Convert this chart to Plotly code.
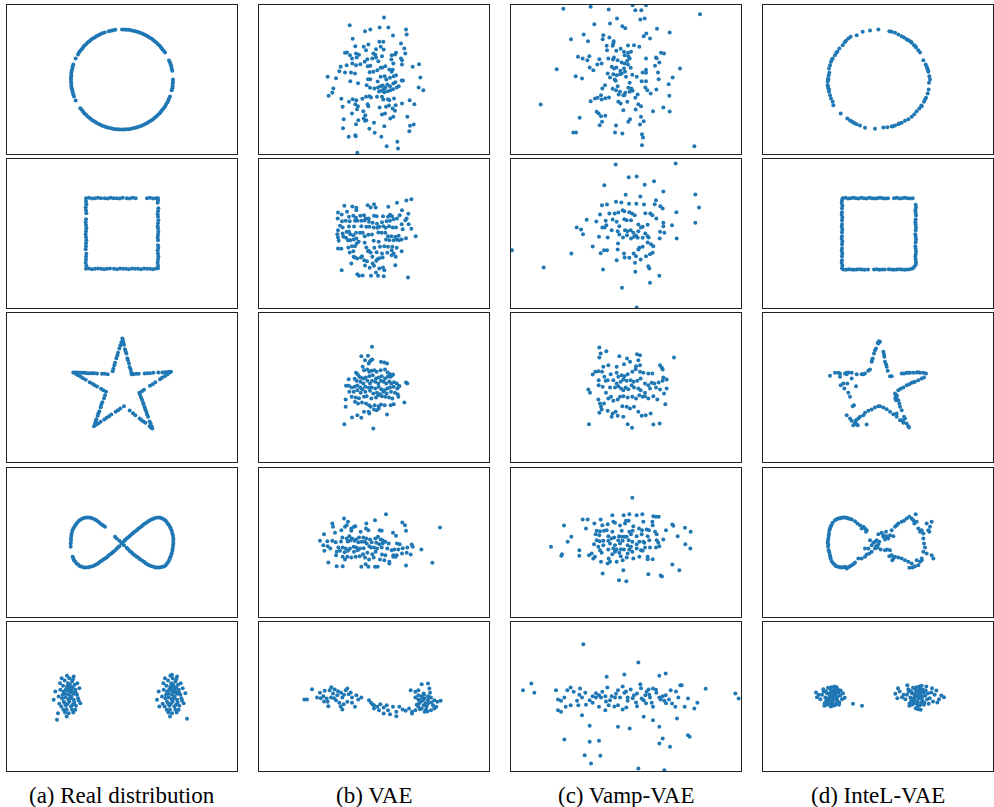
import plotly.graph_objects as go

# ---------------------------------------------------------------
# Samples per panel, (x, y) in a common latent-space unit.
# Rows: circle, square, star, infinity, two clusters
# Columns: real data, VAE, Vamp-VAE, InteL-VAE
# ---------------------------------------------------------------

REAL_CIRCLE = [
    (151,26),(149,32),(148,39),(146,45),(144,51),(141,57),
    (153,0),(153,-7),(152,-13),(152,-20),(151,-26),(149,-32),
    (129,81),(125,86),(121,91),(117,96),(113,101),(108,106),(103,111),(98,115),(93,119),(88,123),
    (82,126),(77,130),(71,133),(65,136),(59,139),(52,141),(46,143),(40,145),(33,146),(27,148),
    (20,149),(13,149),(7,150),(0,150),(-20,149),(-27,148),(-33,146),(-40,145),(-52,141),(-59,139),
    (-65,136),(-71,133),(-77,130),(-82,126),(-88,123),(-93,119),(-98,115),(-103,111),(-108,106),
    (-113,101),(-117,96),(-121,91),(-125,86),(-129,81),(-132,75),(-139,63),
    (-146,45),(-148,39),(-149,32),(-151,26),(-152,20),(-152,13),(-153,7),(-153,0),(-153,-7),
    (-152,-13),(-152,-20),(-151,-26),(-149,-32),(-148,-39),(-146,-45),(-144,-51),(-139,-63),
    (-125,-86),(-121,-91),(-117,-96),(-113,-101),(-108,-106),(-103,-111),(-98,-115),(-93,-119),
    (-88,-123),(-82,-126),(-77,-130),(-71,-133),(-65,-136),(-59,-139),(-52,-141),(-46,-143),
    (-40,-145),(-33,-146),(-27,-148),(-20,-149),(-13,-149),(-7,-150),(0,-150),(7,-150),(13,-149),
    (20,-149),(27,-148),(33,-146),(40,-145),(46,-143),(52,-141),(59,-139),(65,-136),(71,-133),
    (77,-130),(82,-126),(88,-123),(93,-119),(98,-115),(103,-111),(108,-106),(113,-101),(117,-96),
    (121,-91),(125,-86),(129,-81),(132,-75),(136,-69),(139,-63),(141,-57),(144,-51),
]

VAE_CIRCLE = [
    (30,186),(-73,163),(-27,145),(-11,150),(17,156),(43,156),(96,150),(98,135),(57,132),(-64,122),
    (81,108),(-56,100),(-31,98),(-17,105),(16,113),(28,113),(-24,88),(6,91),(20,98),(29,90),(91,93),
    (-87,80),(-81,81),(-72,73),(-54,78),(-45,74),(-2,78),(4,74),(66,80),(63,75),(53,73),(94,78),
    (-66,63),(-52,66),(-20,61),(-5,63),(6,66),(24,70),(52,60),(81,63),(84,58),(-100,38),(-104,25),
    (-82,43),(-65,48),(-54,43),(-41,46),(-28,53),(-19,40),(-11,41),(13,55),(25,36),(34,40),(58,48),
    (84,45),(116,38),(135,46),(-87,21),(-69,21),(-57,18),(-13,22),(-2,23),(10,28),(20,35),(46,30),
    (56,29),(53,23),(-139,8),(-114,4),(-71,-5),(-48,-11),(-18,1),(-11,1),(11,-6),(20,8),(32,10),
    (37,0),(48,5),(59,10),(66,13),(83,-3),(87,-3),(139,6),(-122,-27),(-125,-40),(-136,-49),(-22,-17),
    (-12,-25),(1,-27),(12,-24),(20,-20),(26,-18),(29,-30),(34,-24),(40,-15),(48,-20),(58,-12),
    (64,-8),(68,-24),(74,-20),(15,-36),(23,-34),(31,-38),(41,-35),(49,-32),(57,-29),(134,-24),
    (148,-32),(-98,-58),(-75,-67),(-64,-59),(-53,-62),(-35,-58),(-24,-52),(-14,-50),(-9,-54),
    (9,-52),(24,-52),(28,-60),(42,-59),(46,-62),(60,-57),(84,-72),(107,-62),(121,-74),(-94,-82),
    (-56,-74),(-48,-80),(-51,-89),(-32,-95),(-19,-74),(-17,-80),(17,-84),(36,-82),(45,-78),
    (56,-87),(63,-94),(65,-77),(-66,-102),(-26,-107),(33,-102),(24,-105),(58,-112),(49,-117),
    (-91,-119),(-47,-122),(-31,-117),(-27,-124),(-23,-122),(0,-130),(31,-140),(100,-112),
    (108,-139),(119,-135),(-93,-146),(-54,-134),(-14,-148),(2,-160),(106,-155),(-76,-172),
    (-56,-167),(-55,-170),(22,-172),(70,-187),(38,-200),(72,-207),(-50,-220),
]

VAMP_CIRCLE = [
    (-188,212),(-106,218),(-52,210),(20,223),(60,223),(28,208),(46,208),(222,196),(-27,183),
    (43,180),(56,183),(-95,166),(-48,168),(-11,160),(-2,154),(93,152),(131,141),(-127,135),
    (-165,121),(-68,133),(-70,121),(-50,126),(-37,115),(-38,108),(-40,101),(-114,115),(6,102),
    (24,103),(40,98),(61,138),(53,130),(72,123),(-58,101),(-57,88),(-29,86),(-16,92),(-6,83),
    (6,80),(15,83),(-4,73),(7,70),(11,63),(105,80),(114,78),(90,66),(92,64),(100,51),(-144,68),
    (-130,63),(-116,58),(-110,70),(-80,61),(-73,48),(-86,45),(-53,63),(-39,60),(-36,66),(-25,58),
    (-13,51),(-4,48),(4,56),(6,45),(60,63),(-208,31),(-109,36),(-98,28),(-43,38),(-36,33),
    (-29,36),(-17,26),(-6,33),(-3,23),(14,35),(87,41),(96,21),(162,33),(-151,10),(-132,3),
    (-55,18),(-48,6),(-38,16),(-28,13),(-18,16),(-13,18),(0,8),(19,14),(32,8),(50,21),(60,29),
    (60,20),(140,6),(98,1),(-34,0),(-31,-4),(11,-10),(47,-5),(60,-5),(-63,-17),(-25,-20),
    (-71,-27),(-40,-28),(-30,-32),(-18,-37),(-8,-47),(-2,-40),(7,-25),(16,-27),(11,-37),(20,-34),
    (58,-24),(64,-32),(74,-42),(91,-30),(128,-14),(-256,-75),(-106,-65),(-93,-57),(-85,-55),
    (-75,-47),(-73,-60),(-62,-56),(-51,-54),(-22,-45),(-23,-67),(-16,-72),(-5,-47),(4,-67),
    (28,-55),(35,-45),(37,-74),(45,-80),(130,-49),(-88,-97),(-82,-102),(-75,-110),(-62,-109),
    (-8,-92),(29,-90),(81,-95),(112,-84),(131,-96),(-139,-115),(-72,-127),(-79,-137),(-30,-138),
    (12,-119),(7,-127),(45,-112),(53,-125),(42,-135),(-158,-159),(-150,-159),(-33,-159),
    (-11,-162),(48,-164),(51,-174),(48,-197),(205,-200),
]

INTEL_CIRCLE = [
    (-64,133),(-46,143),(-24,147),(1,150),(34,145),(41,143),(51,140),(61,135),(71,130),(78,126),
    (86,121),(94,116),(101,110),(108,103),(114,96),(121,88),(126,81),(136,58),(143,45),(148,33),
    (151,23),(154,10),(156,0),(153,-10),(152,-30),(149,-42),(144,-55),(138,-67),(131,-80),
    (124,-87),(116,-95),(109,-104),(101,-112),(91,-119),(81,-124),(71,-130),(61,-134),(51,-138),
    (41,-141),(28,-143),(16,-144),(-9,-148),(-39,-145),(-54,-138),(-64,-134),(-74,-129),
    (-84,-123),(-92,-117),(-112,-102),(-134,-77),(-136,-67),(-141,-57),(-144,-47),(-147,-37),
    (-149,-27),(-151,-17),(-151,-7),(-150,3),(-148,13),(-147,33),(-144,43),(-141,53),(-136,63),
    (-129,73),(-122,83),(-116,93),(-106,103),(-96,116),(-89,123),(-82,128),
    (88,119),(99,113),(146,38),(150,28),(-150,-20),(-147,-30),(-149,0),(63,-132),(45,-140),
    (-70,-131),(-78,-126),(130,-78),(141,-60),(112,100),(-100,112),(-125,80),(-138,60),(-146,20),
]

REAL_SQUARE = [
    (-108,106),(-99,107),(-90,105),(-81,106),(-72,107),(-63,106),(-52,106),(-43,105),(-34,107),
    (-25,106),(-16,106),(-7,105),(2,107),(14,106),(23,105),(32,107),(41,106),(75,106),(84,107),
    (93,105),(102,106),(108,106),
    (-108,-106),(-99,-105),(-90,-107),(-81,-106),(-72,-105),(-63,-106),(-54,-107),(-45,-106),
    (-36,-105),(-24,-106),(-15,-107),(-6,-105),(3,-106),(12,-106),(21,-107),(30,-105),(39,-106),
    (48,-106),(57,-107),(66,-105),(75,-106),(84,-106),(93,-107),(102,-105),
    (-108,97),(-107,88),(-109,79),(-108,70),(-107,61),(-108,43),(-109,34),(-108,25),(-107,16),
    (-108,7),(-109,-2),(-108,-11),(-107,-20),(-108,-29),(-108,-38),(-109,-47),(-107,-61),
    (-108,-70),(-108,-79),(-109,-88),(-107,-97),
    (108,100),(107,92),(109,76),(108,67),(107,58),(108,50),(109,40),(108,31),(107,22),(108,15),
    (109,5),(108,-4),(107,-12),(108,-20),(108,-35),(109,-43),(107,-50),(108,-60),(109,-69),
    (108,-78),(107,-87),(108,-96),(108,-104),
]

VAE_SQUARE = [
    (112,103),(97,99),(69,92),(84,70),(43,80),(-19,85),(-10,78),(0,88),(5,78),(-89,83),(-65,81),
    (-53,77),(-53,70),(-108,63),(-97,57),(-81,65),(-75,50),(-62,53),(-54,47),(-41,53),(-30,55),
    (-25,45),(-16,45),(0,53),(8,52),(27,52),(42,50),(48,56),(54,52),(59,43),(69,45),(77,55),
    (103,59),(98,45),(94,40),(-109,45),(-96,37),(-85,38),(-73,37),(-57,38),(-50,38),(-38,38),
    (-28,39),(-15,35),(-4,32),(9,29),(24,34),(38,37),(48,38),(83,28),(104,28),(-102,23),(-94,18),
    (-75,21),(-60,21),(-38,22),(-23,20),(-14,20),(-1,18),(10,17),(16,20),(28,22),(35,17),(45,22),
    (56,18),(66,18),(86,13),(112,14),(-108,10),(-110,-2),(-108,-12),(-94,0),(-82,5),(-75,5),
    (-71,-2),(-62,-5),(-54,2),(-42,2),(-34,2),(-28,-8),(-17,-4),(-6,-3),(13,3),(23,2),(34,2),
    (42,-8),(52,-8),(64,-10),(74,-7),(83,-18),(96,-14),(125,-8),(-106,-22),(-92,-10),(-84,-13),
    (-78,-20),(-71,-20),(-61,-18),(-53,-15),(-46,-25),(-28,-28),(-23,-42),(-1,-22),(14,-25),
    (36,-18),(46,-20),(59,-20),(68,-18),(75,-20),(-108,-45),(-98,-46),(-77,-42),(-66,-38),
    (-57,-38),(-52,-30),(-16,-52),(1,-43),(18,-40),(31,-38),(42,-40),(55,-40),(68,-43),(83,-53),
    (-73,-57),(-62,-53),(-57,-72),(-50,-75),(-36,-68),(-29,-80),(-21,-83),(-18,-53),(-10,-57),
    (8,-56),(24,-60),(40,-58),(53,-50),(59,-60),(65,-70),(-61,-70),(-39,-72),(-5,-70),(10,-77),
    (16,-74),(26,-72),(53,-65),(-68,-90),(-27,-96),(-4,-90),(0,-97),(7,-82),(64,-95),(-13,-103),
    (16,-105),(27,-102),(31,-110),(-97,-110),(-50,-122),(-45,-127),(-34,-126),(-9,-127),(6,-117),
    (12,-127),(29,-128),(102,-132),
]

VAMP_SQUARE = [
    (-31,207),(149,210),(8,169),(32,171),(-65,145),(56,146),(84,157),(112,126),(-1,116),(43,111),
    (208,117),(219,78),(-30,95),(-14,93),(-72,85),(-57,87),(9,89),(31,89),(54,87),(86,88),(90,100),
    (103,82),(110,75),(151,64),(-78,57),(-50,60),(-34,60),(-23,63),(-10,70),(-5,67),(10,64),
    (18,60),(26,55),(58,61),(73,60),(79,55),(91,45),(-118,41),(-89,36),(-61,38),(-40,42),(-28,35),
    (-5,43),(2,40),(15,40),(37,27),(45,18),(50,20),(65,26),(112,32),(112,22),(138,25),(208,32),
    (-148,18),(-135,12),(-129,-2),(-71,18),(-64,18),(-59,25),(-43,10),(-25,7),(-20,22),(-3,10),
    (4,7),(14,10),(22,2),(30,-6),(37,7),(58,0),(65,-8),(102,5),(115,2),(-81,-10),(-55,-12),
    (-20,-3),(-9,-12),(3,-5),(15,-15),(24,-10),(35,-13),(50,-13),(68,-12),(101,-15),(152,-15),
    (-100,-39),(-66,-50),(-57,-50),(-24,-30),(-25,-48),(-6,-60),(23,-60),(37,-48),(40,-43),
    (50,-40),(65,-27),(75,-32),(82,-38),(-76,-59),(-69,-108),(-28,-80),(-4,-72),(10,-73),
    (30,-68),(44,-78),(60,-68),(72,-62),(80,-58),(27,-88),(67,-98),(70,-105),(-164,-60),
    (-247,-102),(-342,-50),(28,-115),(100,-127),(-12,-163),(72,-148),(32,-222),
]

INTEL_SQUARE = [
    (-106,106),(-98,107),(-90,105),(-82,106),(-74,107),(-66,106),(-58,105),(-50,107),(-42,106),
    (-34,105),(-26,107),(-18,106),(-10,105),(-2,106),(6,107),(14,106),(22,105),(30,106),(48,106),
    (56,107),(64,105),(72,106),(80,107),(88,106),(96,105),(104,106),
    (-104,-108),(-96,-109),(-88,-107),(-80,-108),(-72,-109),(-64,-108),(-56,-107),(-48,-108),
    (-40,-109),(-30,-108),(-12,-108),(-4,-107),(4,-109),(12,-108),(20,-108),(32,-107),(40,-108),
    (48,-109),(56,-108),(64,-107),(72,-108),(80,-109),(88,-108),(96,-107),(104,-105),(109,-100),
    (-108,100),(-109,92),(-107,84),(-108,76),(-108,64),(-109,56),(-107,48),(-108,40),(-108,28),
    (-109,20),(-107,12),(-108,4),(-108,-8),(-109,-16),(-107,-24),(-108,-32),(-108,-44),
    (-109,-52),(-107,-60),(-108,-68),(-108,-80),(-109,-88),(-107,-96),(-108,-104),
    (113,86),(114,78),(112,70),(113,62),(114,54),(113,42),(112,34),(113,26),(114,18),(113,10),
    (112,-2),(113,-10),(114,-18),(113,-26),(112,-38),(113,-46),(114,-54),(113,-62),(112,-70),
    (113,-78),(114,-86),(113,-94),
]

REAL_STAR = [
    (1,147),(3,141),(4,134),(6,128),(9,115),(11,108),(13,102),(16,88),(18,81),(21,72),(23,61),
    (26,53),(28,45),(29,40),
    (35,40),(43,41),(50,41),(68,42),(76,43),(84,43),(94,44),(109,45),(121,45),(128,46),(135,46),
    (141,47),(147,47),
    (142,44),(136,39),(128,34),(120,29),(114,25),(100,16),(92,10),(84,5),(66,-7),(60,-11),(52,-16),
    (54,-22),(57,-30),(60,-37),(63,-45),(65,-51),(68,-59),(70,-66),(73,-73),(75,-80),(78,-88),
    (83,-102),(86,-109),(89,-117),(91,-123),
    (87,-120),(83,-116),(70,-106),(64,-102),(59,-98),(53,-93),(40,-83),(33,-77),(23,-69),(6,-56),
    (-5,-63),(-12,-68),(-19,-73),(-32,-81),(-39,-86),(-46,-91),(-53,-96),(-64,-103),(-71,-108),
    (-78,-112),(-84,-116),
    (-81,-109),(-79,-102),(-77,-95),(-73,-85),(-71,-78),(-68,-71),(-64,-59),(-62,-52),(-59,-44),
    (-54,-32),(-51,-23),(-48,-13),
    (-56,-8),(-63,-4),(-75,3),(-82,7),(-89,11),(-97,16),(-109,23),(-117,28),(-124,32),(-132,37),
    (-139,41),
    (-146,45),(-140,45),(-135,45),(-129,44),(-123,44),(-117,44),(-112,44),(-106,43),(-100,43),
    (-94,43),(-88,43),(-83,43),(-75,42),(-60,41),(-52,41),(-43,40),
    (-28,49),(-26,56),(-23,67),(-21,74),(-17,88),(-14,96),(-12,104),(-8,117),(-5,126),(-2,136),
]

VAE_STAR = [
    (-6,122),(-38,94),(-18,95),(-13,77),(-9,82),(-27,82),(-16,72),(21,77),(31,75),(39,72),(-5,84),
    (-34,62),(-30,52),(-20,54),(-14,47),(-8,50),(1,52),(8,47),(20,52),(33,54),(41,45),(48,40),
    (55,37),(-54,44),(-49,40),(-44,32),(-39,29),(-31,27),(-25,30),(-14,34),(-4,37),(6,27),(14,30),
    (23,34),(33,27),(41,32),(50,32),(57,39),(-76,25),(-58,26),(-52,20),(-41,17),(-32,12),(-20,20),
    (-12,12),(-6,20),(4,17),(13,12),(21,20),(29,17),(37,12),(46,18),(52,12),(60,16),(68,12),(75,5),
    (96,15),(100,12),(-84,5),(-76,5),(-67,0),(-58,2),(-50,6),(-41,0),(-35,-5),(-26,2),(-16,-1),
    (-7,0),(4,-3),(14,2),(22,-5),(31,-8),(40,-3),(48,0),(59,2),(70,-3),(76,4),(-74,-13),(-61,-13),
    (-50,-8),(-40,-16),(-26,-13),(-12,-10),(-2,-18),(9,-16),(18,-20),(28,-13),(38,-18),(51,-13),
    (63,-16),(-85,-36),(-67,-28),(-55,-30),(-45,-32),(-30,-28),(-22,-26),(-8,-33),(6,-30),(13,-23),
    (24,-26),(34,-28),(45,-30),(55,-33),(73,-28),(71,-20),(-85,-58),(-57,-43),(-48,-48),(-36,-45),
    (-24,-48),(-15,-53),(-10,-58),(2,-53),(14,-56),(21,-51),(32,-53),(50,-53),(59,-50),(91,-45),
    (-50,-83),(-30,-73),(-16,-73),(-14,-78),(0,-66),(8,-68),(14,-63),(39,-81),(-66,-90),(-38,-91),
    (-89,-110),(-2,-123),
]

VAMP_STAR = [
    (-80,120),(-76,102),(-59,109),(-80,90),(-20,94),(3,87),(33,100),(42,97),(37,82),(144,90),
    (-68,62),(-53,67),(-28,62),(-6,70),(12,77),(30,64),(42,67),(102,67),(107,60),(110,54),
    (-100,39),(-92,47),(-83,49),(-72,47),(-65,32),(-46,40),(-28,44),(-23,32),(-13,37),(-5,34),
    (5,40),(19,47),(29,55),(42,47),(52,44),(67,42),(79,42),(112,30),(122,24),(-82,22),(-61,20),
    (-55,22),(-38,22),(-28,12),(-16,17),(-8,24),(2,20),(14,22),(23,17),(34,20),(44,27),(57,12),
    (67,7),(77,14),(85,12),(98,15),(110,20),(-113,-6),(-108,-16),(-82,7),(-70,2),(-60,-16),(-48,0),
    (-33,0),(-23,4),(-15,-3),(-8,-8),(-1,0),(7,-5),(17,7),(24,0),(37,-3),(44,-8),(57,-16),(72,-3),
    (90,0),(102,-6),(122,-3),(114,-18),(-83,-36),(-78,-48),(-75,-58),(-66,-48),(-53,-33),(-45,-28),
    (-38,-40),(-25,-36),(-18,-28),(-8,-26),(5,-30),(19,-28),(30,-33),(40,-23),(50,-28),(57,-26),
    (67,-33),(82,-26),(94,-36),(118,-50),(-73,-66),(-55,-70),(-40,-78),(-31,-73),(-25,-85),
    (-11,-56),(2,-58),(12,-63),(24,-58),(37,-73),(47,-85),(59,-83),(74,-78),(-80,-76),(-43,-88),
    (-8,-88),(5,-110),(18,-121),(-111,-110),(82,-111),(101,-108),
]

INTEL_STAR = [
    (-129,44),(-114,42),(-99,42),(-89,45),(-79,44),(-64,40),(-49,40),(-39,42),(-29,50),(-24,54),
    (-144,35),(-119,44),(-94,44),(-44,40),
    (-19,77),(-16,87),(-12,102),(-6,117),(-1,134),(6,137),(3,139),(1,132),(-9,112),(-18,82),
    (16,107),(19,92),(21,77),(26,62),(29,50),(36,34),(41,34),(18,100),(24,70),
    (71,42),(78,42),(86,44),(96,44),(106,44),(116,45),(126,44),(136,44),(144,42),(91,44),(121,46),
    (131,27),(121,22),(111,17),(101,14),(94,10),(86,7),(76,0),(68,-4),(61,-8),(138,30),(106,16),
    (51,-18),(53,-28),(54,-38),(56,-28),(61,-38),(64,-48),(66,-58),(71,-68),(56,-23),(52,-33),
    (78,-88),(81,-93),(86,-108),(91,-116),(93,-120),(56,-78),(71,-98),(76,-103),
    (76,-106),(66,-98),(56,-88),(46,-80),(36,-73),(26,-65),(16,-60),(6,-56),(1,-56),
    (-9,-60),(-19,-66),(-29,-70),(-39,-76),(-44,-83),(-54,-88),(-59,-93),(-66,-98),(-69,-106),
    (-64,-110),(-74,-113),(-61,-113),(-34,-111),
    (-94,-83),(-84,-93),(-79,-100),(-72,-53),(-76,-56),(-84,-28),(-89,-16),(-101,-3),(-112,7),
    (-104,12),(-92,12),(-66,4),(-79,27),(-114,32),(-94,40),
]

REAL_INFINITY = [
    (-51,47),(-61,54),(-71,62),(-81,69),(-94,74),(-106,75),(-118,72),(-129,65),(-138,55),(-146,42),
    (-151,27),(-153,12),(-154,-3),(-154,-13),(-148,-43),(-144,-53),(-136,-63),(-126,-71),
    (-114,-75),(-101,-74),(-88,-71),(-76,-65),(-66,-58),(-56,-51),(-46,-45),(-36,-36),(-26,-28),
    (-16,-19),(-8,-11),(-1,-3),(6,4),(14,12),(24,20),(34,29),(44,37),(54,45),(64,53),(74,60),
    (84,67),(96,72),(109,75),(121,72),(131,65),(139,55),(146,42),(151,27),(154,12),(154,-3),
    (152,-18),(149,-33),(144,-46),(139,-58),(131,-68),(122,-73),(112,-75),(101,-75),(89,-71),
    (77,-66),(66,-58),(54,-50),(44,-43),(34,-35),(24,-26),(14,-16),(6,-8),(-1,-1),(-8,5),(-16,12),
    (-21,17),
    (-100,75),(-112,74),(-124,69),(-134,60),(-142,49),(-149,35),(-152,20),(-153,5),(-146,-48),
    (-140,-58),(-131,-67),(-120,-73),(-108,-75),(-95,-73),(-82,-68),(-71,-62),(-61,-55),(-51,-48),
    (-41,-40),(-31,-32),(-21,-24),(-12,-15),(10,8),(19,16),(29,25),(39,33),(49,41),(59,49),(69,57),
    (79,64),(90,70),(102,74),(115,74),(126,69),(135,60),(143,49),(149,35),(153,20),(154,5),
    (153,-10),(151,-25),(147,-40),(142,-52),(135,-63),(127,-71),(117,-74),(106,-75),(95,-73),
    (83,-69),(71,-62),(60,-54),(49,-46),(39,-39),(29,-30),(19,-21),(-88,72),(-76,66),(-66,58),
    (-56,51),
]

VAE_INFINITY = [
    (36,85),(-90,72),(3,67),(-78,62),(-125,57),(-23,57),(85,60),(93,52),(-123,47),(-87,47),(-82,52),
    (-68,42),(-60,47),(-56,49),(-24,42),(-17,37),(17,37),(23,35),(-98,37),(96,35),(198,45),
    (-150,25),(-117,29),(-40,32),(-68,35),(57,29),(66,20),(-95,15),(-82,12),(-74,19),(-66,12),
    (-54,9),(-45,15),(-32,15),(-23,12),(-12,9),(4,12),(12,17),(20,9),(26,7),(34,2),(-162,5),
    (-140,4),(-125,5),(-115,1),(-99,3),(-79,3),(-72,5),(-59,5),(-47,1),(-37,2),(-28,2),(-22,-3),
    (-7,1),(7,-1),(16,-5),(26,-3),(44,-3),(69,-3),(77,-5),(113,-6),(-152,-8),(-139,-11),(-131,-18),
    (-107,-15),(-94,-15),(-85,-18),(-72,-18),(-61,-13),(-53,-15),(-42,-18),(-31,-17),(-14,-11),
    (-9,-15),(0,-15),(9,-18),(23,-15),(40,-18),(53,-23),(61,-21),(73,-21),(86,-17),(100,-15),
    (116,-13),(142,-21),(-149,-25),(-112,-28),(-102,-25),(-88,-29),(-78,-25),(-60,-28),(-49,-23),
    (-33,-35),(-20,-31),(-5,-35),(5,-28),(24,-36),(34,-38),(58,-38),(68,-38),(84,-33),(98,-31),
    (110,-36),(-114,-38),(-94,-43),(-87,-51),(-80,-43),(-68,-45),(-55,-43),(-43,-41),(-27,-45),
    (-15,-51),(-1,-45),(18,-51),(31,-53),(46,-63),(58,-43),(65,-43),(-137,-60),(-112,-71),
    (-94,-71),(-38,-73),(-25,-65),(-17,-73),(3,-73),(11,-73),(96,-69),(175,-61),(46,-58),
]

VAMP_INFINITY = [
    (19,134),(-41,82),(-7,82),(10,85),(32,82),(49,85),(82,79),(90,77),(98,77),(-130,69),(-115,69),
    (-76,69),(-38,62),(0,65),(8,65),(52,62),(79,62),(-33,59),(-186,51),(-95,57),(-71,52),(-55,55),
    (-18,51),(-3,57),(22,49),(39,42),(62,39),(80,52),(139,54),(142,50),(177,44),(-120,42),(-88,35),
    (-78,34),(-66,35),(-58,37),(-41,32),(-13,35),(10,32),(20,35),(48,37),(69,37),(87,32),(120,37),
    (194,32),(-164,17),(-91,25),(-80,22),(-53,19),(-35,15),(-21,19),(-13,17),(-5,17),(2,17),
    (15,25),(32,19),(47,25),(65,19),(92,25),(155,19),(-175,2),(-88,7),(-79,4),(-68,5),(-53,5),
    (-43,12),(-23,7),(-10,5),(8,7),(19,2),(40,2),(55,-1),(70,7),(92,7),(97,-1),(112,9),(178,-5),
    (-225,-13),(-96,-5),(-83,-13),(-68,-8),(-48,-3),(-33,-8),(-18,-3),(5,-8),(15,-13),(32,-5),
    (52,2),(72,-15),(90,-15),(100,-11),(193,-18),(-140,-23),(-78,-23),(-53,-21),(-38,-18),
    (-28,-21),(-15,-20),(-6,-21),(10,-21),(32,-18),(45,-23),(57,-15),(-103,-33),(-73,-31),
    (-33,-28),(-20,-31),(5,-33),(19,-28),(50,-25),(-192,-35),(-194,-40),(-140,-40),(-111,-38),
    (-98,-48),(-93,-43),(-52,-48),(-41,-35),(-16,-41),(2,-45),(22,-48),(40,-43),(65,-43),(65,-50),
    (80,-50),(-75,-58),(-55,-63),(-48,-58),(-28,-58),(-10,-53),(139,-66),(160,-83),(-8,-83),
    (-70,-93),(67,-95),(104,-99),(108,-102),(-21,-113),(1,-116),
]

INTEL_INFINITY = [
    (-129,67),(-119,72),(-109,74),(-99,75),(-89,72),(-79,69),(-69,64),(-62,57),(-54,52),(-44,47),
    (-39,42),(-34,37),(-49,42),(-36,32),(-136,59),(-142,47),(-146,37),(-147,27),(-149,12),
    (-151,-1),(-150,-13),(-148,-23),(-144,-38),(-142,-48),(-139,-56),(-134,-63),(-126,-71),
    (-119,-73),(-109,-75),(-99,-73),(-94,-78),(-84,-71),(-74,-65),(-69,-60),(-59,-48),(-49,-48),
    (-39,-43),(-34,-36),(-26,-33),(-19,-28),(-9,-18),(-6,-11),(-1,-15),(1,-5),(4,2),(-4,7),
    (-14,-1),(-24,7),(-29,-18),(-39,-18),(-19,-8),(-9,2),(8,-21),(1,25),(11,29),(16,17),(21,9),
    (26,19),(31,12),(24,32),(16,22),(36,22),(46,19),(41,37),(51,47),(56,52),(61,57),(71,62),
    (78,65),(86,72),(94,77),(101,72),(106,67),(113,85),(109,57),(116,62),(121,42),(131,37),
    (136,27),(126,32),(136,12),(138,-3),(141,-15),(136,-28),(146,-33),(161,-38),(166,-48),
    (151,37),(154,32),(156,47),(161,62),(146,57),(131,-53),(126,-58),(121,-68),(111,-71),
    (104,-75),(94,-76),(101,-63),(91,-58),(81,-53),(71,-48),(61,-45),(51,-43),(46,-48),(41,-38),
    (36,-23),(28,-21),(21,-23),(34,-41),(43,-53),(116,-53),(131,-48),
    (-124,70),(-114,73),(-104,75),(-94,74),(-84,71),(-140,52),(-144,42),(-148,20),(-150,5),
    (-149,-7),(-146,-30),(-143,-43),(-130,-67),(-114,-74),(-104,-74),(-89,-74),(-79,-68),
]

REAL_CLUSTERS = [
    (-160,5),(-150,12),(-170,-2),(-155,25),(-165,30),(-145,-10),(-175,15),(-158,-15),(-140,20),
    (-180,-5),(-162,40),(-150,45),(-172,48),(-148,-25),(-168,-28),(-185,20),(-135,5),(-152,0),
    (-163,18),(-177,32),(-142,35),(-158,55),(-166,-40),(-190,0),(-130,-12),(-145,60),(-170,8),
    (-155,-5),(-148,28),(-138,-28),(-182,-30),(-160,-50),(-195,-70),(-192,-50),(-175,-15),
    (-165,62),(-150,-40),(-128,25),(-200,15),(-186,40),(-156,35),(-144,8),(-172,-20),(-161,-8),
    (-134,40),(-178,5),(-146,-48),(-157,15),(-168,22),(-140,-40),(-125,-20),(-205,-10),(-153,-30),
    (-181,55),(-163,-22),(-147,52),(-171,-48),(-139,12),(-188,-22),(-159,28),(-132,-5),(-166,-60),
    (-176,-40),(-151,18),(-143,-18),
    (150,5),(160,12),(140,-2),(155,25),(145,30),(165,-10),(135,15),(152,-15),(170,20),(130,-5),
    (148,40),(160,45),(138,48),(162,-25),(142,-28),(125,20),(175,5),(158,0),(147,18),(133,32),
    (168,35),(152,55),(144,-40),(120,0),(180,-12),(165,60),(140,8),(155,-5),(162,28),(172,-28),
    (128,-30),(150,-50),(195,-67),(150,65),(135,-15),(145,62),(160,-40),(182,25),(110,15),(124,40),
    (154,35),(166,8),(138,-20),(149,-8),(176,40),(132,5),(164,-48),(153,15),(142,22),(170,-40),
    (185,-20),(105,-10),(157,-30),(129,55),(147,-22),(163,52),(139,-48),(171,12),(122,-22),
    (151,28),(178,-5),(144,-60),(134,-40),(159,18),(167,-18),(190,10),(112,-30),
]

VAE_CLUSTERS = [
    (-186,22),(-201,-9),(-209,-9),(-171,-3),(-162,11),(-152,1),(-148,17),(-133,19),(-123,9),
    (-118,21),(-110,4),(-99,11),(-95,-3),(-85,19),(-80,24),(-76,7),(-66,-3),(-53,4),(-47,-9),
    (-38,-3),(-139,-16),(-114,-11),(-104,-19),(-91,-23),(-80,-16),(-66,-19),(-137,-29),(-95,-39),
    (-57,-31),(-129,-3),(-142,-6),(-120,-5),(-108,16),(-128,28),(-90,5),(-70,12),(-150,-15),
    (-100,-30),(-160,-5),
    (-15,-11),(-9,-19),(0,-26),(10,-31),(19,-23),(29,-33),(38,-26),(42,-41),(48,-53),(57,-31),
    (67,-46),(76,-31),(86,-39),(95,-43),(105,-36),(114,-51),(67,-59),(29,-51),(15,-41),(0,-36),
    (-4,-24),
    (110,19),(124,14),(133,19),(143,37),(162,39),(166,24),(149,9),(124,-3),(133,-9),(143,1),
    (152,-6),(162,1),(171,-3),(181,-11),(190,-16),(200,-13),(137,-19),(149,-26),(162,-21),
    (177,-26),(187,-31),(133,-31),(143,-36),(156,-39),(171,-41),(124,-41),(114,-46),(152,-46),
    (181,-36),(162,-11),(133,4),(168,11),(140,-15),(155,-20),(145,-5),(158,-30),(128,-25),
    (165,-2),(150,5),(138,-38),(172,-18),(160,-45),(147,-12),(135,-20),
]

VAMP_CLUSTERS = [
    (-210,19),(-204,-9),(-195,-13),(-185,-3),(-176,19),(-166,27),(-157,14),(-147,-13),(-143,-26),
    (-138,24),(-132,-3),(-122,11),(-109,-11),(-100,1),(-90,-3),(-81,4),(-75,-3),(-71,14),(-62,1),
    (-56,27),(-48,-11),(-43,1),(-33,-3),(-24,19),(-18,-3),(-10,-39),(-5,11),(1,-33),(5,-3),
    (14,21),(24,4),(33,9),(43,37),(47,-6),(53,-11),(58,4),(62,14),(68,21),(72,-3),(77,-19),(81,24),
    (91,11),(100,-3),(104,-9),(110,1),(115,-13),(119,4),(129,-9),(134,19),(138,-21),(157,-3),
    (167,34),(176,-31),(186,-6),(205,-36),(214,-19),(239,23),(-52,-26),(-24,-26),(5,-13),(33,-29),
    (81,-31),(148,-31),(-181,-31),(-166,-26),(-100,-19),(-81,-31),(-62,-41),(-132,-56),(-195,-46),
    (-204,-41),(-90,10),(-60,-15),(-30,8),(0,15),(30,-18),(60,-20),(90,20),(120,-20),(-140,5),
    (-120,-25),(-35,-30),(45,25),(20,-5),(-10,30),(70,5),(150,15),
    (-128,157),(37,102),(-309,19),(-284,39),(-275,11),(328,9),(338,-6),(-185,-129),(-109,-136),
    (-81,-133),(-124,-176),(-77,-178),(-105,-201),(37,-216),(115,-221),(-24,-91),(11,-96),
    (-109,-88),(53,-61),(81,-71),(100,-91),(110,-126),(100,-141),(132,-151),(186,-116),
    (191,-121),(153,-66),(119,69),(100,62),(-5,66),(-58,59),(163,34),
]

INTEL_CLUSTERS = [
    (-138,0),(-128,8),(-148,-5),(-133,18),(-143,22),(-123,-10),(-153,10),(-136,-15),(-118,12),
    (-158,-3),(-140,28),(-128,25),(-150,26),(-126,-22),(-146,-20),(-163,15),(-113,3),(-130,0),
    (-141,12),(-155,-12),(-120,20),(-136,-28),(-168,5),(-108,-8),(-148,8),(-133,-5),(-126,14),
    (-116,-18),(-160,-20),(-138,-22),(-173,-8),(-153,-25),(-131,30),(-145,-10),(-121,0),(-178,5),
    (-164,22),(-134,8),(-122,-14),(-150,-15),(-112,18),(-156,16),(-144,2),(-129,-26),(-105,10),
    (-183,-2),(-142,-30),(-124,28),(-161,-28),(-117,-25),(-75,-22),(-48,-28),(-100,-4),(-186,12),
    (-135,-10),
    (117,0),(127,8),(107,-5),(122,18),(112,22),(132,-10),(102,10),(119,-15),(137,12),(97,-3),
    (115,28),(127,25),(105,26),(129,-22),(109,-20),(92,15),(142,3),(125,0),(114,12),(100,-12),
    (135,20),(119,-30),(87,5),(147,-8),(107,8),(122,-5),(129,14),(139,-18),(95,-20),(117,-22),
    (82,-8),(102,-25),(124,30),(110,-10),(134,0),(77,5),(91,22),(121,8),(133,-14),(105,-15),
    (143,18),(99,16),(111,2),(126,-26),(150,10),(72,-2),(113,-35),(131,32),(94,-28),(138,-25),
    (155,-5),(160,12),(165,-15),(170,5),(175,18),(183,-8),(190,3),(198,-2),(65,15),(58,-5),(52,8),
    (145,30),(152,-22),(162,25),(178,-18),(128,-40),(120,-38),(88,34),(60,25),
]

GRID = [
    [REAL_CIRCLE, VAE_CIRCLE, VAMP_CIRCLE, INTEL_CIRCLE],
    [REAL_SQUARE, VAE_SQUARE, VAMP_SQUARE, INTEL_SQUARE],
    [REAL_STAR, VAE_STAR, VAMP_STAR, INTEL_STAR],
    [REAL_INFINITY, VAE_INFINITY, VAMP_INFINITY, INTEL_INFINITY],
    [REAL_CLUSTERS, VAE_CLUSTERS, VAMP_CLUSTERS, INTEL_CLUSTERS],
]
CAPTIONS = ["(a) Real distribution", "(b) VAE", "(c) Vamp-VAE", "(d) InteL-VAE"]

# ---------------------------------------------------------------
# Layout
# ---------------------------------------------------------------
W, H = 994, 807
COL_LEFT = [7, 259, 511, 763]
ROW_TOP = [5, 159, 313, 468, 622]
PANEL_W, PANEL_H = 230, 149
X_RANGE = [-345, 345]
Y_RANGE = [-223.5, 223.5]
DOT = "#1f77b4"

fig = go.Figure()
layout = {}
for r, row in enumerate(GRID):
    for c, pts in enumerate(row):
        k = r * 4 + c + 1
        xa = "x" if k == 1 else f"x{k}"
        ya = "y" if k == 1 else f"y{k}"
        fig.add_trace(go.Scatter(
            x=[p[0] for p in pts], y=[p[1] for p in pts],
            mode="markers", xaxis=xa, yaxis=ya, showlegend=False,
            marker=dict(size=4, color=DOT, line=dict(width=0)),
            hoverinfo="skip",
        ))
        x0 = COL_LEFT[c] / W
        x1 = (COL_LEFT[c] + PANEL_W) / W
        y1 = 1 - ROW_TOP[r] / H
        y0 = 1 - (ROW_TOP[r] + PANEL_H) / H
        common = dict(showline=True, mirror=True, linecolor="#222222", linewidth=1.2,
                      showgrid=False, zeroline=False, ticks="", showticklabels=False,
                      fixedrange=True)
        layout["xaxis" if k == 1 else f"xaxis{k}"] = dict(
            domain=[x0, x1], range=X_RANGE, anchor=ya, **common)
        layout["yaxis" if k == 1 else f"yaxis{k}"] = dict(
            domain=[y0, y1], range=Y_RANGE, anchor=xa, **common)

annotations = []
for c, text in enumerate(CAPTIONS):
    annotations.append(dict(
        text=text, x=(COL_LEFT[c] + PANEL_W / 2) / W, y=1 - 795 / H,
        xref="paper", yref="paper", xanchor="center", yanchor="middle",
        showarrow=False,
        font=dict(family="Liberation Serif, Times New Roman, serif", size=23, color="#000000"),
    ))

fig.update_layout(
    width=W, height=H,
    margin=dict(l=0, r=0, t=0, b=0),
    paper_bgcolor="white", plot_bgcolor="white",
    annotations=annotations,
    **layout,
)

fig.write_html("out.html")
